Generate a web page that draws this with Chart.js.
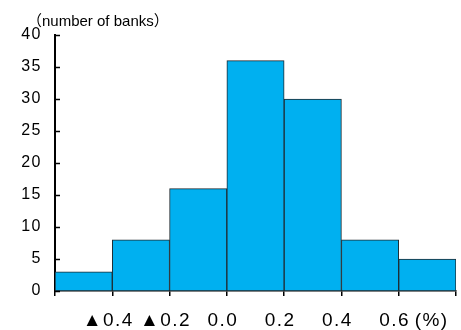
<!DOCTYPE html>
<html>
<head>
<meta charset="utf-8">
<script src="https://cdn.jsdelivr.net/npm/chart.js@4/dist/chart.umd.min.js"></script>
<style>
  html, body { margin: 0; padding: 0; background: #fff; }
  #wrap { width: 461px; height: 330px; position: relative; }
</style>
</head>
<body>
<div id="wrap"><canvas id="c" width="461" height="330"></canvas></div>
<script>
// Distribution of banks by change rate (%)
const binCenters = [-0.5, -0.3, -0.1, 0.1, 0.3, 0.5, 0.7];
const bankCounts = [3, 8, 16, 36, 30, 8, 5];
const tickValues = [-0.6, -0.4, -0.2, 0.0, 0.2, 0.4, 0.6, 0.8];
const tickLabels = ['', '▲0.4', '▲0.2', '0.0', '0.2', '0.4', '0.6', '(%)      '];
const unitLabel = '（number of banks）';

const FONT = "'Liberation Sans', Arial, 'Noto Sans CJK JP', sans-serif";

// Slightly looser letter spacing for the axis labels
const axisTextSpacing = {
  id: 'axisTextSpacing',
  beforeDraw(chart) { chart.ctx.letterSpacing = '1.5px'; },
  beforeDatasetsDraw(chart) { chart.ctx.letterSpacing = '0px'; }
};

// Short tick marks on the inner side of the value axis, plus the unit caption
const decorations = {
  id: 'decorations',
  afterDraw(chart) {
    const { ctx } = chart;
    const y = chart.scales.y;
    const left = chart.chartArea.left;
    ctx.save();
    ctx.strokeStyle = '#000';
    ctx.lineWidth = 1.5;
    y.ticks.forEach(t => {
      const py = Math.round(y.getPixelForValue(t.value)) + 0.5;
      ctx.beginPath();
      ctx.moveTo(left, py);
      ctx.lineTo(left + 5, py);
      ctx.stroke();
    });
    ctx.fillStyle = '#000';
    ctx.font = "15px " + FONT;
    ctx.textBaseline = 'alphabetic';
    ctx.textAlign = 'left';
    ctx.fillText(unitLabel, 27, 26);
    ctx.restore();
  }
};

new Chart(document.getElementById('c'), {
  type: 'bar',
  data: {
    datasets: [{
      data: binCenters.map((x, i) => ({ x, y: bankCounts[i] })),
      backgroundColor: '#00B0F0',
      borderColor: '#1f2a30',
      borderWidth: 1,
      borderSkipped: false,
      barPercentage: 1,
      categoryPercentage: 1
    }]
  },
  options: {
    responsive: false,
    animation: false,
    layout: { padding: { top: 35, right: 5, left: 0, bottom: 0 } },
    plugins: { legend: { display: false }, tooltip: { enabled: false } },
    scales: {
      x: {
        type: 'linear',
        offset: false,
        min: tickValues[0],
        max: tickValues[tickValues.length - 1],
        afterBuildTicks: s => { s.ticks = tickValues.map(v => ({ value: v })); },
        afterFit: s => { s.height = 39; s.paddingLeft = 0; s.paddingRight = 0; },
        grid: { offset: false, drawOnChartArea: false, color: '#000', tickLength: 5, lineWidth: 1.5 },
        border: { color: '#000', width: 1.5 },
        ticks: {
          autoSkip: false,
          maxRotation: 0,
          minRotation: 0,
          padding: 13,
          labelOffset: -4,
          color: '#000',
          font: { size: 19, family: FONT },
          callback: (v, i) => tickLabels[i]
        }
      },
      y: {
        min: 0,
        max: 40,
        afterFit: s => { s.width = 55; s.paddingTop = 0; s.paddingBottom = 0; },
        grid: { display: false, drawTicks: false },
        border: { color: '#000', width: 2 },
        ticks: {
          stepSize: 5,
          padding: 13,
          color: '#000',
          font: { size: 16, family: FONT }
        }
      }
    }
  },
  plugins: [axisTextSpacing, decorations]
});
</script>
</body>
</html>
